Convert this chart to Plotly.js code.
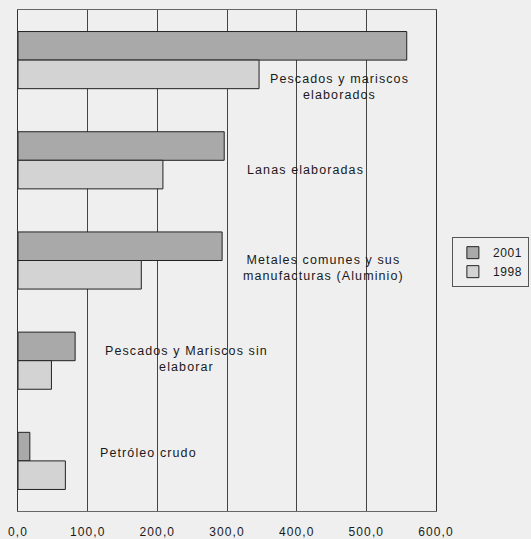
<!DOCTYPE html>
<html>
<head>
<meta charset="utf-8">
<script src="https://cdn.plot.ly/plotly-3.0.1.min.js"></script>
<style>
  html, body { margin: 0; padding: 0; background: #efefef; }
  #chart { width: 531px; height: 539px; }
  .xtick text, .annotation-text { letter-spacing: 1.1px; }
  .legendtext { letter-spacing: 0.6px; }
</style>
</head>
<body>
<div id="chart"></div>
<script>
const categories = [
  "Pescados y mariscos elaborados",
  "Lanas elaboradas",
  "Metales comunes y sus manufacturas (Aluminio)",
  "Pescados y Mariscos sin elaborar",
  "Petróleo crudo"
];
const labelText = [
  "Pescados y mariscos<br>elaborados",
  "Lanas elaboradas",
  "Metales comunes y sus<br>manufacturas (Aluminio)",
  "Pescados y Mariscos sin<br>elaborar",
  "Petróleo crudo"
];
const values2001 = [558, 296, 293, 82, 17];
const values1998 = [346, 208, 177, 48, 68];
const seriesNames = ["2001", "1998"];

// label placement (x in data units, vertical shift in px)
const labelX = [462, 412, 438, 242, 187];
const labelShift = [-27, -10, -7, 2, 8];

const font = "Liberation Sans, Arial, sans-serif";

const traces = [
  {
    type: "bar", orientation: "h", name: seriesNames[0],
    y: categories, x: values2001,
    marker: { color: "#a9a9a9", line: { color: "#222", width: 1 } },
    hoverinfo: "x"
  },
  {
    type: "bar", orientation: "h", name: seriesNames[1],
    y: categories, x: values1998,
    marker: { color: "#d3d3d3", line: { color: "#222", width: 1 } },
    hoverinfo: "x"
  }
];

const annotations = categories.map((c, i) => ({
  x: labelX[i], y: c, xref: "x", yref: "y",
  text: labelText[i], showarrow: false, yshift: labelShift[i],
  font: { family: font, size: 12.5, color: "#1a1a1a" },
  align: "center", xanchor: "center", yanchor: "middle"
}));

const layout = {
  width: 531, height: 539,
  margin: { l: 18, r: 95, t: 10, b: 28 },
  paper_bgcolor: "#efefef", plot_bgcolor: "#efefef",
  separators: ",.",
  barmode: "group", bargap: 0.43, bargroupgap: 0,
  showlegend: true,
  legend: {
    xref: "container", yref: "container",
    x: 0.851, xanchor: "left", y: 0.56, yanchor: "top",
    bgcolor: "rgba(0,0,0,0)", bordercolor: "#555", borderwidth: 1,
    traceorder: "normal",
    font: { family: font, size: 12, color: "#1a1a1a" },
    itemwidth: 30, tracegroupgap: 0
  },
  xaxis: {
    range: [0, 600], dtick: 100, tick0: 0, tickformat: ".1f",
    showgrid: true, gridcolor: "#444", gridwidth: 1,
    zeroline: false, showline: true, linecolor: "#666", linewidth: 1, mirror: true,
    ticks: "outside", ticklen: 10, tickcolor: "rgba(0,0,0,0)",
    tickfont: { family: font, size: 12, color: "#1a1a1a" },
    fixedrange: true
  },
  yaxis: {
    type: "category", autorange: "reversed",
    showticklabels: false, ticks: "", showgrid: false, zeroline: false,
    showline: true, linecolor: "#333", linewidth: 1, mirror: true,
    fixedrange: true
  },
  annotations: annotations
};

Plotly.newPlot("chart", traces, layout, { displayModeBar: false, staticPlot: true });
</script>
</body>
</html>
